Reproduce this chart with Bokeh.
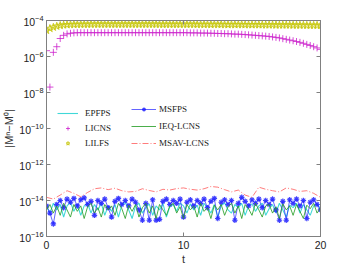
import numpy as np
from bokeh.plotting import figure
from bokeh.models import LinearAxis, LogAxis, FixedTicker, Range1d, Legend, LegendItem, BasicTickFormatter
from bokeh.embed import file_html
from bokeh.resources import INLINE

# ---------------- data ----------------
# top series, sampled every 0.25 in t (0..20)
lilfs = [2.8e-5, 3.6e-5, 4.2e-5, 4.8e-5, 5.3e-5, 5.6e-5, 5.8e-5, 5.9e-5, 6.0e-5,
         6.0e-5, 6.1e-5, 6.1e-5, 6.1e-5, 6.2e-5, 6.2e-5, 6.2e-5, 6.2e-5, 6.2e-5, 6.2e-5,
         6.2e-5, 6.2e-5, 6.2e-5, 6.2e-5, 6.2e-5, 6.2e-5, 6.2e-5, 6.2e-5, 6.2e-5, 6.2e-5,
         6.2e-5, 6.2e-5, 6.2e-5, 6.2e-5, 6.1e-5, 6.1e-5, 6.1e-5, 6.1e-5, 6.1e-5, 6.1e-5,
         6.1e-5, 6.1e-5, 6.1e-5, 6.1e-5, 6.1e-5, 6.0e-5, 6.0e-5, 6.0e-5, 6.0e-5, 6.0e-5,
         6.0e-5, 6.0e-5, 6.0e-5, 5.9e-5, 5.9e-5, 5.9e-5, 5.9e-5, 5.9e-5, 5.9e-5, 5.8e-5,
         5.8e-5, 5.8e-5, 5.8e-5, 5.8e-5, 5.7e-5, 5.7e-5, 5.7e-5, 5.7e-5, 5.6e-5, 5.6e-5,
         5.6e-5, 5.6e-5, 5.6e-5, 5.5e-5, 5.5e-5, 5.5e-5, 5.5e-5, 5.4e-5, 5.4e-5, 5.4e-5, 5.4e-5, 5.3e-5]
licns = [2.1e-6, 2.0e-8, 1.7e-6, 3.5e-6, 1.0e-5, 1.5e-5, 1.8e-5, 1.95e-5, 2.05e-5,
         2.1e-5, 2.1e-5, 2.1e-5, 2.1e-5, 2.1e-5, 2.1e-5, 2.1e-5, 2.1e-5, 2.1e-5, 2.1e-5,
         2.1e-5, 2.1e-5, 2.1e-5, 2.1e-5, 2.1e-5, 2.1e-5, 2.1e-5, 2.1e-5, 2.1e-5, 2.1e-5,
         2.1e-5, 2.1e-5, 2.1e-5, 2.1e-5, 2.1e-5, 2.1e-5, 2.1e-5, 2.1e-5, 2.1e-5, 2.1e-5,
         2.1e-5, 2.1e-5, 2.1e-5, 2.05e-5, 2.05e-5, 2.05e-5, 2.0e-5, 2.0e-5, 2.0e-5, 1.95e-5,
         1.95e-5, 1.9e-5, 1.9e-5, 1.85e-5, 1.85e-5, 1.8e-5, 1.75e-5, 1.75e-5, 1.7e-5, 1.65e-5,
         1.6e-5, 1.55e-5, 1.5e-5, 1.45e-5, 1.4e-5, 1.35e-5, 1.3e-5, 1.22e-5, 1.15e-5, 1.08e-5,
         9.8e-6, 9.0e-6, 8.2e-6, 7.5e-6, 6.8e-6, 6.1e-6, 5.4e-6, 4.7e-6, 4.1e-6, 3.5e-6, 3.0e-6, 2.5e-6]

# bottom (round-off level) series, sampled every 0.25 in t
msfps = [5e-15, 2e-15, 5e-16, 6e-15, 1.0e-14, 4e-15, 1.2e-14, 8e-15, 1.3e-14, 5e-15,
         1.1e-14, 1.4e-14, 6e-15, 9e-15, 1.5e-15, 1.0e-14, 7e-15, 1.2e-14, 4e-15, 1.2e-15,
         9e-15, 1.3e-14, 6e-15, 1.0e-14, 5e-15, 1.2e-14, 8e-15, 3e-15, 8e-16, 7e-15,
         8e-16, 1.1e-14, 8e-16, 9e-16, 9e-15, 1.2e-14, 6e-15, 1.0e-14, 7e-15, 1.2e-14,
         1.2e-15, 8e-15, 1.1e-14, 5e-15, 1.0e-14, 7e-15, 1.2e-14, 4e-15, 9e-15, 1.3e-14,
         1e-15, 8e-15, 1.1e-14, 6e-15, 1.0e-14, 8e-16, 7e-15, 1.5e-14, 9e-15, 5e-15,
         1.1e-14, 7e-15, 1.2e-14, 4e-15, 1.0e-14, 6e-15, 1.2e-14, 3e-15, 8e-16, 9e-15,
         8e-16, 1.1e-14, 7e-15, 1.2e-14, 5e-15, 1.0e-14, 1e-15, 8e-15, 1.1e-14, 6e-15, 3e-15]
ieq_lcns = [3e-15, 6e-15, 2e-15, 5e-15, 1.5e-15, 7e-15, 3e-15, 1.2e-15, 6e-15, 2.5e-15,
            5e-15, 1e-15, 4.5e-15, 7e-15, 2e-15, 4e-15, 1.2e-15, 6e-15, 3e-15, 5e-15,
            1.5e-15, 7e-15, 3.5e-15, 1e-15, 5.5e-15, 2.5e-15, 6e-15, 1.2e-15, 4e-15, 7e-15,
            2e-15, 5e-15, 1e-15, 6e-15, 3e-15, 1.5e-15, 5e-15, 7e-15, 2e-15, 4.5e-15,
            1e-15, 6e-15, 3e-15, 5e-15, 1.2e-15, 7e-15, 2.5e-15, 4e-15, 1e-15, 5.5e-15,
            3e-15, 6e-15, 1.5e-15, 4.5e-15, 7e-15, 2e-15, 5e-15, 1e-15, 6e-15, 3.5e-15,
            1.5e-15, 7e-15, 3e-15, 1.2e-15, 5e-15, 6e-15, 2e-15, 4.5e-15, 1e-15, 6.5e-15,
            3e-15, 5e-15, 1.5e-15, 6e-15, 2.5e-15, 1e-15, 5.5e-15, 3.5e-15, 7e-15, 2e-15, 4e-15]
epfps = [5e-15, 2e-15, 7e-15, 3e-15, 6e-15, 1.2e-15, 5e-15, 8e-15, 2.5e-15, 6e-15,
         1.5e-15, 5e-15, 7e-15, 2e-15, 6e-15, 3e-15, 7e-15, 1.5e-15, 5e-15, 2.5e-15,
         6e-15, 1.2e-15, 5.5e-15, 8e-15, 3e-15, 1e-15, 5e-15, 7e-15, 2e-15, 4e-15,
         6.5e-15, 1.5e-15, 5e-15, 3e-15, 7e-15, 1.2e-15, 4.5e-15, 6e-15, 2.5e-15, 7e-15,
         5e-15, 2e-15, 6.5e-15, 3e-15, 5.5e-15, 1.5e-15, 7e-15, 4e-15, 2e-15, 6e-15,
         1.2e-15, 5e-15, 7.5e-15, 3e-15, 2e-15, 6e-15, 4e-15, 7e-15, 1.5e-15, 5e-15,
         6.5e-15, 2.5e-15, 5e-15, 7e-15, 1.5e-15, 3.5e-15, 6e-15, 2e-15, 7e-15, 3e-15,
         1.2e-15, 5.5e-15, 4e-15, 7e-15, 2e-15, 6e-15, 3e-15, 1.5e-15, 5e-15, 6.5e-15, 3.5e-15]
# MSAV-LCNS, sampled every 0.5 in t
msav_lcns = [1.5e-14, 1.2e-14, 2.0e-14, 3.5e-14, 2.5e-14, 1.6e-14, 2.8e-14, 4.5e-14, 5.0e-14, 4.0e-14,
             4.8e-14, 3.5e-14, 3.0e-14, 3.2e-14, 4.5e-14, 3.6e-14, 3.0e-14, 4.2e-14, 3.8e-14, 4.6e-14,
             5.0e-14, 4.2e-14, 3.8e-14, 4.5e-14, 6.0e-14, 5.5e-14, 4.0e-14, 3.0e-14, 3.8e-14, 2.0e-14,
             1.5e-14, 5.5e-14, 4.2e-14, 3.5e-14, 3.0e-14, 5.0e-14, 4.2e-14, 3.2e-14, 3.5e-14, 2.5e-14, 1.5e-14]

x_ticks = [0, 10, 20]
y_ticks = [1e-16, 1e-14, 1e-12, 1e-10, 1e-8, 1e-6, 1e-4]

t_fine = np.linspace(0, 20, len(lilfs))
t_msav = np.linspace(0, 20, len(msav_lcns))

# ---------------- figure ----------------
p = figure(width=354, height=267, output_backend="svg", toolbar_location=None,
           x_range=Range1d(0, 20), y_range=Range1d(1e-16, 1e-4), y_axis_type="log",
           min_border_left=46, min_border_right=34, min_border_top=20, min_border_bottom=31)
p.xgrid.visible = False
p.ygrid.visible = False
p.outline_line_color = "#808080"
p.outline_line_width = 1
p.background_fill_color = "white"

GRAY = "#808080"
for ax in (p.xaxis[0], p.yaxis[0]):
    ax.axis_line_color = GRAY
    ax.major_tick_line_color = GRAY
    ax.major_tick_in = 4
    ax.major_tick_out = 0
    ax.minor_tick_line_color = None
    ax.major_label_text_font = "Liberation Sans"
    ax.major_label_text_font_size = "10.5px"
    ax.major_label_text_color = "#222222"
    ax.axis_label_text_font = "Liberation Sans"
    ax.axis_label_text_font_size = "11px"
    ax.axis_label_text_font_style = "normal"
    ax.axis_label_text_color = "#333333"
p.xaxis[0].ticker = FixedTicker(ticks=x_ticks, minor_ticks=[])
p.yaxis[0].ticker = FixedTicker(ticks=y_ticks, minor_ticks=[])
p.xaxis[0].major_label_standoff = 4
p.yaxis[0].major_label_standoff = 3
p.xaxis[0].axis_label = "t"
p.xaxis[0].axis_label_standoff = 1
p.yaxis[0].axis_label = "|Mⁿ−M⁰|"
p.yaxis[0].axis_label_standoff = 1

top_ax = LinearAxis(ticker=FixedTicker(ticks=x_ticks, minor_ticks=[]))
right_ax = LogAxis(ticker=FixedTicker(ticks=y_ticks, minor_ticks=[]), formatter=BasicTickFormatter())
for ax in (top_ax, right_ax):
    ax.axis_line_color = GRAY
    ax.major_tick_line_color = GRAY
    ax.major_tick_in = 4
    ax.major_tick_out = 0
    ax.minor_tick_line_color = None
    ax.major_label_text_font_size = "1px"
    ax.major_label_text_alpha = 0
    ax.major_label_standoff = 0
p.add_layout(top_ax, "above")
p.add_layout(right_ax, "right")

# ---------------- series ----------------
r_ep = p.line(t_fine, epfps, line_color="#40d8d8", line_width=1.1, line_alpha=1.0)
r_li = p.scatter(t_fine, licns, marker="cross", size=7, line_color="#cc22cc", line_alpha=0.8, line_width=1)
r_ll = p.scatter(t_fine, lilfs, marker="star", size=8, line_color="#c8c810", fill_color="#c8c810",
                 line_alpha=0.85, fill_alpha=0.35, line_width=1)
r_msl = p.line(t_fine, msfps, line_color="#3030ff", line_width=1, line_alpha=0.75)
r_msm = p.scatter(t_fine, msfps, marker="asterisk", size=5.5, line_color="#2020ff", line_alpha=0.85, line_width=1.2)
r_ieq = p.line(t_fine, ieq_lcns, line_color="#2ca02c", line_width=1, line_alpha=0.85)
r_msav = p.line(t_msav, msav_lcns, line_color="#ff5050", line_width=1, line_alpha=0.75, line_dash="6 2 1 2")

leg_common = dict(padding=0, margin=0, background_fill_alpha=0, border_line_alpha=0,
                  label_text_font="Liberation Serif", label_text_font_size="9px",
                  glyph_height=10, label_height=10, label_text_color="#222222")
leg1 = Legend(items=[LegendItem(label="EPFPS", renderers=[r_ep]),
                     LegendItem(label="LICNS", renderers=[r_li]),
                     LegendItem(label="LILFS", renderers=[r_ll])],
              location=(11, 88), glyph_width=21, spacing=5, label_standoff=7, **leg_common)
leg2 = Legend(items=[LegendItem(label="MSFPS", renderers=[r_msl, r_msm]),
                     LegendItem(label="IEQ-LCNS", renderers=[r_ieq]),
                     LegendItem(label="MSAV-LCNS", renderers=[r_msav])],
              location=(85, 88), glyph_width=25, spacing=7, label_standoff=3, **leg_common)
p.add_layout(leg1, "center")
p.add_layout(leg2, "center")

open("out.html", "w").write(file_html(p, INLINE))
